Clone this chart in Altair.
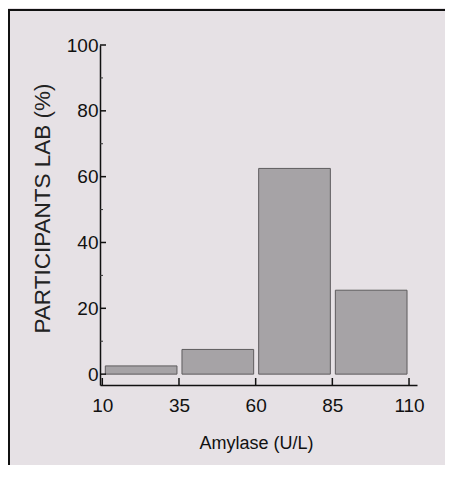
import altair as alt
import pandas as pd

# Data
bin_start = [10, 35, 60, 85]
bin_end = [35, 60, 85, 110]
percent = [2.5, 7.5, 62.5, 25.5]

x_ticks = [10, 35, 60, 85, 110]
y_ticks = [0, 20, 40, 60, 80, 100]
y_minor = [10, 30, 50, 70, 90]

BG = "#e6e1e5"
SANS = "Liberation Sans, Arial, sans-serif"

bars_df = pd.DataFrame({"start": bin_start, "end": bin_end, "pct": percent})
xt_df = pd.DataFrame({"v": x_ticks})
yt_df = pd.DataFrame({"v": y_ticks})
ym_df = pd.DataFrame({"v": y_minor})
one_df = pd.DataFrame({"v": [0]})

W, H = 317, 340
PB = 80
PR = 28
xscale = alt.Scale(domain=[9.25, 112.6], nice=False, zero=False)
yscale = alt.Scale(domain=[-3.3, 100], nice=False, zero=False)

xaxis = alt.Axis(
    values=x_ticks, ticks=False, grid=False, domainColor="#111", domainWidth=1.5,
    labelFont=SANS, labelFontSize=19, labelColor="#111", labelPadding=11,
    title="Amylase (U/L)", titleFont=SANS, titleFontSize=18, titleFontWeight="normal",
    titleColor="#111", titleX=156, titleY=58, titleBaseline="middle", titleAnchor="middle",
    labelFlush=False,
)
yaxis = alt.Axis(
    values=y_ticks, ticks=False, grid=False, domainColor="#111", domainWidth=1.5,
    labelFont=SANS, labelFontSize=19, labelColor="#111", labelPadding=2,
    title="PARTICIPANTS LAB (%)", titleFont=SANS, titleFontSize=22.5, titleFontWeight="normal",
    titleColor="#222", titleX=-58, titleY=163, titleAngle=270, titleBaseline="middle",
    titleAlign="center", labelFlush=False,
)

cover = alt.Chart(one_df).mark_rect(fill=BG, strokeWidth=0).encode(
    x=alt.value(W + PR - 6), x2=alt.value(W + PR + 20),
    y=alt.value(-40), y2=alt.value(H + PB + 20),
)
frame_top = alt.Chart(one_df).mark_rule(color="#111", strokeWidth=2).encode(
    y=alt.value(-35), x=alt.value(-92), x2=alt.value(W + PR + 5)
)
frame_left = alt.Chart(one_df).mark_rule(color="#111", strokeWidth=2).encode(
    x=alt.value(-91), y=alt.value(-35), y2=alt.value(H + PB + 5)
)

bars = alt.Chart(bars_df).mark_rect(
    fill="#a6a3a6", stroke="#5e5c5e", strokeWidth=1, xOffset=3, x2Offset=-2
).encode(
    x=alt.X("start:Q", scale=xscale, axis=xaxis),
    x2="end:Q",
    y=alt.Y("pct:Q", scale=yscale, axis=yaxis),
    y2=alt.datum(0),
)

xt = alt.Chart(xt_df).mark_rule(color="#111", strokeWidth=1.5).encode(
    x=alt.X("v:Q", scale=xscale), y=alt.value(H), y2=alt.value(H - 7)
)
yt = alt.Chart(yt_df).mark_rule(color="#111", strokeWidth=1.5).encode(
    y=alt.Y("v:Q", scale=yscale), x=alt.value(0), x2=alt.value(6)
)
ym = alt.Chart(ym_df).mark_rule(color="#333", strokeWidth=1).encode(
    y=alt.Y("v:Q", scale=yscale), x=alt.value(0), x2=alt.value(3)
)

chart = alt.layer(cover, frame_top, frame_left, bars, xt, yt, ym).properties(
    width=W, height=H,
    autosize=alt.AutoSizeParams(type="none"),
    padding={"left": 92, "top": 37, "right": PR, "bottom": PB},
    background=BG,
).configure_view(strokeWidth=0)

chart.save("out.html", embed_options={"renderer": "svg", "actions": False})
